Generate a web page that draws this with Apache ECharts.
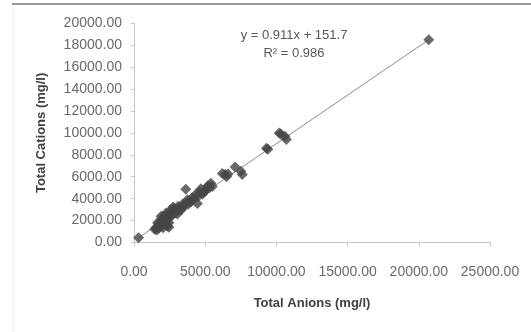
<!DOCTYPE html>
<html>
<head>
<meta charset="utf-8">
<script src="https://cdn.jsdelivr.net/npm/echarts@6/dist/echarts.min.js"></script>
<style>
html,body{margin:0;padding:0;background:#fff;}
#chart{width:531px;height:332px;}
</style>
</head>
<body>
<div id="chart"></div>
<script>
// Data
const anions = [320, 1450, 1550, 1600, 1700, 1750, 1800, 1850, 1900, 1950, 2000, 2000, 2100, 2150, 2200, 2250, 2300, 2350, 2400, 2450, 2500, 2550, 2600, 2650, 2700, 2800, 2900, 3000, 3100, 3200, 3300, 3400, 3500, 3640, 3650, 3800, 3900, 4000, 4200, 4350, 4450, 4500, 4600, 4700, 4800, 5000, 5100, 5200, 5400, 5500, 6200, 6400, 6600, 6500, 7100, 7600, 7500, 9300, 9400, 10200, 10300, 10600, 10700, 20700, 1650, 1900, 2050, 2250, 2450, 2750, 3050, 3350, 3750, 4100, 4900, 5300];
const cations = [430, 1200, 1350, 1150, 1500, 1300, 1700, 1450, 2000, 1800, 2200, 1600, 2400, 1900, 2100, 1700, 2500, 1500, 2200, 1400, 2700, 2300, 3000, 2500, 2800, 3100, 2700, 3000, 3300, 2950, 3200, 3500, 3300, 4850, 3600, 3500, 3800, 3700, 4000, 4400, 3550, 4200, 4600, 4900, 4400, 4700, 5000, 5200, 5400, 5100, 6300, 6200, 6250, 6000, 6900, 6200, 6500, 8600, 8500, 10000, 9900, 9700, 9400, 18500, 1800, 2400, 1350, 2700, 1800, 3250, 2600, 3000, 3900, 4100, 4600, 5000];
const trendX = [320, 20700];
const trendY = [440, 18500];
const xTicks = [0, 5000, 10000, 15000, 20000, 25000];
const yTicks = [0, 2000, 4000, 6000, 8000, 10000, 12000, 14000, 16000, 18000, 20000];
const equationText = 'y = 0.911x + 151.7';
const r2Text = 'R² = 0.986';

const chart = echarts.init(document.getElementById('chart'), null, {renderer: 'canvas'});
const font = 'Liberation Sans';
chart.setOption({
  animation: false,
  backgroundColor: '#fff',
  grid: {left: 134, right: 41, top: 23.3, bottom: 89.5, containLabel: false},
  xAxis: {
    type: 'value', min: xTicks[0], max: xTicks[xTicks.length - 1], interval: 5000,
    name: 'Total Anions (mg/l)', nameLocation: 'middle', nameGap: 54,
    nameTextStyle: {fontFamily: font, fontSize: 13, fontWeight: 'bold', color: '#404040'},
    axisLine: {show: true, lineStyle: {color: '#c8c8c8', width: 1}},
    axisTick: {show: true, inside: false, length: 4, lineStyle: {color: '#c8c8c8'}},
    splitLine: {show: false},
    axisLabel: {margin: 23, fontFamily: font, fontSize: 14, color: '#6a6a6a', formatter: v => v.toFixed(2)}
  },
  yAxis: {
    type: 'value', min: yTicks[0], max: yTicks[yTicks.length - 1], interval: 2000,
    name: 'Total Cations (mg/l)', nameLocation: 'middle', nameGap: 86,
    nameTextStyle: {fontFamily: font, fontSize: 13, fontWeight: 'bold', color: '#404040'},
    axisLine: {show: true, lineStyle: {color: '#c8c8c8', width: 1}},
    axisTick: {show: true, inside: false, length: 3, lineStyle: {color: '#c8c8c8'}},
    splitLine: {show: false},
    axisLabel: {margin: 12, fontFamily: font, fontSize: 14, color: '#6a6a6a', formatter: v => v.toFixed(2)}
  },
  series: [
    {
      type: 'line', data: trendX.map((x, i) => [x, trendY[i]]),
      symbol: 'none', lineStyle: {color: '#8c8c8c', width: 1}, z: 1, silent: true
    },
    {
      type: 'scatter', data: anions.map((x, i) => [x, cations[i]]),
      symbol: 'diamond', symbolSize: 11,
      itemStyle: {color: '#454545'}, z: 2
    }
  ],
  graphic: [
    {type: 'line', shape: {x1: 12, y1: 4, x2: 531, y2: 4}, style: {stroke: '#9a9a9a', lineWidth: 2}},
    {type: 'line', shape: {x1: 13, y1: 5, x2: 13, y2: 332}, style: {stroke: '#ececec', lineWidth: 1}},
    {type: 'text', x: 294, y: 35, style: {text: equationText, font: '13px "Liberation Sans"', fill: '#595959', align: 'center', verticalAlign: 'middle'}},
    {type: 'text', x: 294, y: 53.5, style: {text: r2Text, font: '13px "Liberation Sans"', fill: '#595959', align: 'center', verticalAlign: 'middle'}}
  ]
});
</script>
</body>
</html>
